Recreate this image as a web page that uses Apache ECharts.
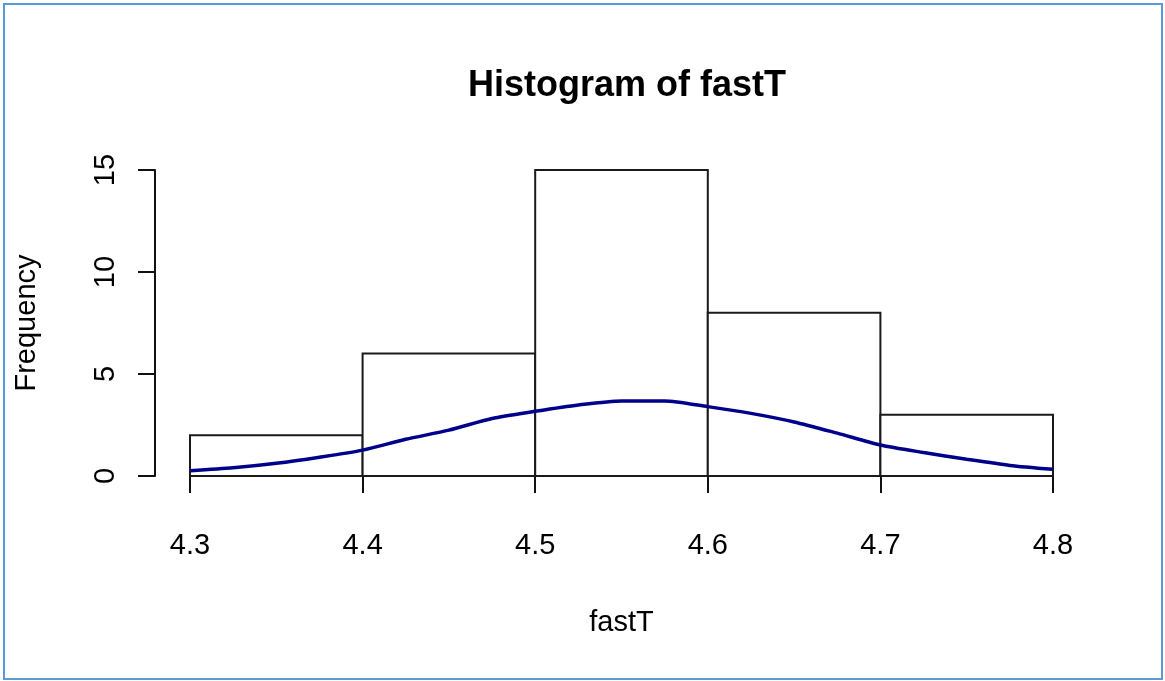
<!DOCTYPE html>
<html>
<head>
<meta charset="utf-8">
<script src="https://cdn.jsdelivr.net/npm/echarts@6/dist/echarts.min.js"></script>
<style>
  html, body { margin: 0; padding: 0; background: #fff; }
  #chart { width: 1165px; height: 681px; }
</style>
</head>
<body>
<div id="chart"></div>
<script>
// histogram bins (edges) and counts
const binEdges = [4.3, 4.4, 4.5, 4.6, 4.7, 4.8];
const counts = [2, 6, 15, 8, 3];

// blue density-like curve
const curveX = [4.300, 4.325, 4.350, 4.375, 4.400, 4.425, 4.450, 4.475, 4.500, 4.525, 4.550,
                4.575, 4.600, 4.625, 4.650, 4.675, 4.700, 4.725, 4.750, 4.775, 4.800];
const curveY = [0.26, 0.40, 0.62, 0.92, 1.27, 1.80, 2.25, 2.82, 3.17, 3.48, 3.68,
                3.68, 3.40, 3.07, 2.65, 2.10, 1.52, 1.15, 0.82, 0.52, 0.33];

const font = "Arial, 'Liberation Sans', sans-serif";

const barData = counts.map((c, i) => [binEdges[i], binEdges[i + 1], c]);
const curveData = curveX.map((x, i) => [x, curveY[i]]);

const myChart = echarts.init(document.getElementById("chart"));
myChart.setOption({
  animation: false,
  backgroundColor: "#fff",
  title: {
    text: "Histogram of fastT",
    left: 622,
    top: 63,
    textAlign: "center",
    textStyle: { fontFamily: font, fontSize: 36, fontWeight: "bold", color: "#000" }
  },
  graphic: [
    {
      type: "rect",
      shape: { x: 4, y: 4, width: 1158, height: 675 },
      style: { fill: null, stroke: "#5b9bd5", lineWidth: 2 },
      z: 100
    }
  ],
  grid: { left: 190, right: 112, top: 170, bottom: 205 },
  xAxis: {
    type: "value",
    min: 4.3,
    max: 4.8,
    interval: 0.1,
    offset: 14,
    name: "fastT",
    nameLocation: "middle",
    nameGap: 118,
    nameTextStyle: { fontFamily: font, fontSize: 29, color: "#000" },
    axisLine: { show: true, lineStyle: { color: "#111", width: 2 } },
    axisTick: { show: true, inside: false, length: 17, lineStyle: { color: "#111", width: 2 } },
    axisLabel: {
      fontFamily: font, fontSize: 29, color: "#000", margin: 41,
      showMinLabel: true, showMaxLabel: true,
      formatter: v => v.toFixed(1)
    },
    splitLine: { show: false }
  },
  yAxis: {
    type: "value",
    min: 0,
    max: 15,
    interval: 5,
    offset: 35,
    name: "Frequency",
    nameLocation: "middle",
    nameGap: 114,
    nameRotate: 90,
    nameTextStyle: { fontFamily: font, fontSize: 29, color: "#000" },
    axisLine: { show: true, lineStyle: { color: "#111", width: 2 } },
    axisTick: { show: true, inside: false, length: 17, lineStyle: { color: "#111", width: 2 } },
    axisLabel: {
      fontFamily: font, fontSize: 29, color: "#000", margin: 35, rotate: 90
    },
    splitLine: { show: false }
  },
  series: [
    {
      name: "bars",
      type: "custom",
      data: barData,
      renderItem: function (params, api) {
        const p0 = api.coord([api.value(0), api.value(2)]);
        const p1 = api.coord([api.value(1), 0]);
        return {
          type: "rect",
          shape: { x: p0[0], y: p0[1], width: p1[0] - p0[0], height: p1[1] - p0[1] },
          style: { fill: "#fff", stroke: "#1a1a1a", lineWidth: 2 }
        };
      },
      encode: { x: [0, 1], y: 2 },
      z: 1
    },
    {
      name: "curve",
      type: "line",
      data: curveData,
      smooth: 0.25,
      showSymbol: false,
      lineStyle: { color: "#00008b", width: 3.5 },
      z: 5
    }
  ]
});
</script>
</body>
</html>
